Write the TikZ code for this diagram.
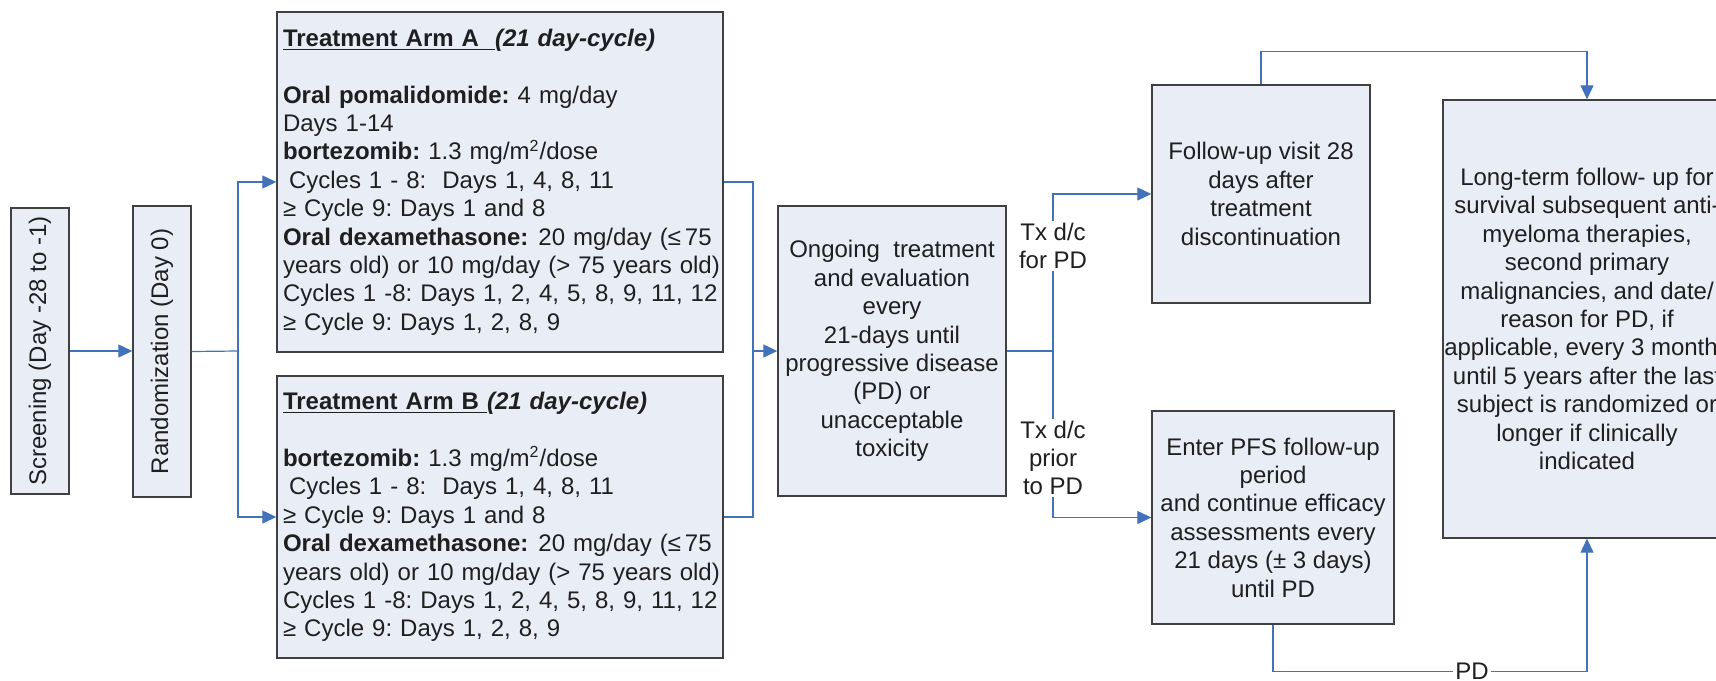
\documentclass[tikz,border=0pt]{standalone}
\usepackage{fontspec}
\setmainfont{Liberation Sans}
\usepackage{xcolor}
\usepackage{graphicx}
\usetikzlibrary{arrows.meta}
\definecolor{boxfill}{RGB}{232,237,246}
\definecolor{boxline}{RGB}{64,64,64}
\definecolor{flowblue}{RGB}{66,114,186}
\frenchspacing

\begin{document}
\begin{tikzpicture}[x = 0.5pt, y = -0.5pt,
        box/.style = {draw = boxline, fill = boxfill, line width = 0.7pt, inner sep = 0pt,
            font = \fontsize{12}{14.2}\selectfont, text = black!88},
        arm/.style = {box, text width = 220pt, inner xsep = 1.5pt, align = left, minimum width = 223pt},
        mid/.style = {box, align = center},
        flow/.style = {draw = flowblue, line width = 0.6pt},
        tip/.style = {-{Triangle[length = 7pt, width = 6.5pt]}},
        tag/.style = {fill = white, inner sep = 1pt, align = center, text = black!88,
            font = \fontsize{12}{14.2}\selectfont}]

        \path[use as bounding box, clip] (0, 0) rectangle (1716, 680);

        \node[box, minimum width = 29pt, minimum height = 143pt] (screen) at (40, 351)
            {\rotatebox{90}{Screening (Day -28 to -1)}};
        \node[box, minimum width = 29pt, minimum height = 145.5pt] (rand) at (162, 351.5)
            {\rotatebox{90}{Randomization (Day 0)}};

        \node[arm, minimum height = 170pt] (armA) at (500, 182)
            {\hspace*{1.5pt}\textbf{\underline{Treatment Arm A\ \ }\textit{(21 day-cycle)}}\\[14.2pt]
            \hspace*{1.5pt}\textbf{Oral pomalidomide:} 4 mg/day\\
            \hspace*{1.5pt}Days 1-14\\
            \hspace*{1.5pt}\textbf{bortezomib:} 1.3 mg/m\textsuperscript{2}/dose\\
            \hspace*{4.5pt}Cycles 1 - 8:\ \ Days 1, 4, 8, 11\\
            \hspace*{1.5pt}≥ Cycle 9: Days 1 and 8\\
            \hspace*{1.5pt}\mbox{\textbf{Oral dexamethasone:}\hspace{5pt}20 mg/day (≤\hspace{2pt}75}\\
            \hspace*{1.5pt}years old) or 10 mg/day (> 75 years old)\\
            \hspace*{1.5pt}Cycles 1 -8: Days 1, 2, 4, 5, 8, 9, 11, 12\\
            \hspace*{1.5pt}≥ Cycle 9: Days 1, 2, 8, 9};
        \node[arm, minimum height = 141pt] (armB) at (500, 517)
            {\hspace*{1.5pt}\textbf{\underline{Treatment Arm B }\textit{(21 day-cycle)}}\\[14.2pt]
            \hspace*{1.5pt}\textbf{bortezomib:} 1.3 mg/m\textsuperscript{2}/dose\\
            \hspace*{4.5pt}Cycles 1 - 8:\ \ Days 1, 4, 8, 11\\
            \hspace*{1.5pt}≥ Cycle 9: Days 1 and 8\\
            \hspace*{1.5pt}\mbox{\textbf{Oral dexamethasone:}\hspace{5pt}20 mg/day (≤\hspace{2pt}75}\\
            \hspace*{1.5pt}years old) or 10 mg/day (> 75 years old)\\
            \hspace*{1.5pt}Cycles 1 -8: Days 1, 2, 4, 5, 8, 9, 11, 12\\
            \hspace*{1.5pt}≥ Cycle 9: Days 1, 2, 8, 9};

        \node[mid, minimum width = 114pt, minimum height = 145pt] (ongoing) at (892, 351)
            {Ongoing\ \ treatment\\ and evaluation\\ every\\ 21-days until\\ progressive disease\\
            (PD) or\\ unacceptable\\ toxicity};

        \node[mid, minimum width = 109pt, minimum height = 109pt] (follow) at (1261, 194)
            {Follow-up visit 28\\ days after\\ treatment\\ discontinuation};
        \node[mid, minimum width = 121pt, minimum height = 106.5pt] (pfs) at (1273, 517.5)
            {Enter PFS follow-up\\ period\\ and continue efficacy\\ assessments every\\
            21 days (± 3 days)\\ until PD};
        \node[mid, minimum width = 144pt, minimum height = 219pt] (longterm) at (1587, 319)
            {Long-term follow- up for\\ survival subsequent anti-\\ myeloma therapies,\\
            second primary\\ malignancies, and date/\\ reason for PD, if\\
            applicable, every 3 months\\ until 5 years after the last\\
            subject is randomized or\\ longer if clinically\\ indicated};

        \draw[flow, tip] (screen.east) -- (screen.east -| rand.west);
        \coordinate (fork) at (238, 351);
        \draw[flow] (rand.east) -- (fork);
        \draw[flow, tip] (fork) |- (armA.west);
        \draw[flow, tip] (fork) |- (armB.west);

        \coordinate (merge) at (753, 351);
        \draw[flow] (armA.east) -| (merge) |- (armB.east);
        \draw[flow, tip] (merge) -- (ongoing.west);

        \coordinate (split) at (1053, 351);
        \draw[flow] (ongoing.east) -- (split);
        \draw[flow, tip] (split) |- (follow.west);
        \draw[flow, tip] (split) |- (pfs.west);

        \draw[flow, tip] (follow.north) -- ++(0, -33) -| (longterm.north);
        \draw[flow, tip] (pfs.south) -- ++(0, 47) -| (longterm.south);

        \node[tag] (forpd) at (1053, 246) {Tx d/c\\for PD};
        \node[tag] (priorpd) at (1053, 458) {Tx d/c\\prior\\to PD};
        \node[tag] (pdtag) at (1472, 671) {PD};
    \end{tikzpicture}
\end{document}
